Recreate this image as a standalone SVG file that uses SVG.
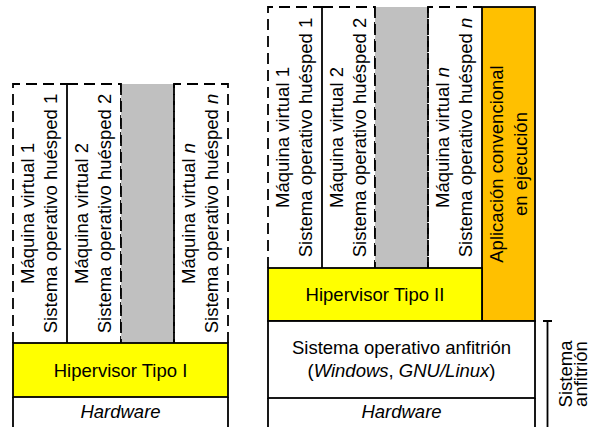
<svg xmlns="http://www.w3.org/2000/svg" width="606" height="427" viewBox="0 0 606 427">
<style>
.t{font-family:"Liberation Sans",Arial,sans-serif;font-size:18.5px;fill:#000;text-anchor:middle}
.i{font-style:italic}
.d{stroke:#000;stroke-width:1.8;stroke-dasharray:11,6;fill:none}
.s{stroke:#000;stroke-width:1.8;fill:none}
.b{stroke:#000;stroke-width:1.8}
</style>
<rect width="606" height="427" fill="#fff"/>
<!-- Left: Type I -->
<g id="L-vm1">
<path class="d" d="M13,343 V84 H67"/>
<path class="s" d="M67,84 V343"/>
<text class="t" transform="translate(34,213.5) rotate(-90)">Máquina virtual 1</text>
<text class="t" transform="translate(57,213.5) rotate(-90)">Sistema operativo huésped 1</text>
</g>
<g id="L-vm2">
<path class="d" d="M67,84 H121 V343"/>
<text class="t" transform="translate(88,213.5) rotate(-90)">Máquina virtual 2</text>
<text class="t" transform="translate(111,213.5) rotate(-90)">Sistema operativo huésped 2</text>
</g>
<g id="L-gap">
<rect x="121" y="84" width="53" height="259" fill="#c0c0c0"/>
<path class="d" d="M121,84 V343 M174,84 V343"/>
</g>
<g id="L-vmn">
<path class="d" d="M174,343 V84 H228 V343"/>
<text class="t" transform="translate(195,213.5) rotate(-90)">Máquina virtual <tspan class="i">n</tspan></text>
<text class="t" transform="translate(218,213.5) rotate(-90)">Sistema operativo huésped <tspan class="i">n</tspan></text>
</g>
<g id="L-hyp">
<rect class="b" x="13" y="343" width="215" height="54" fill="#ffff00"/>
<text class="t" x="120.5" y="377">Hipervisor Tipo I</text>
</g>
<g id="L-hw">
<path class="s" d="M13,397 V427 M228,397 V427"/>
<text class="t i" x="120.5" y="418">Hardware</text>
</g>
<!-- Right: Type II -->
<g id="R-vm1">
<path class="d" d="M268,268 V7 H322"/>
<path class="s" d="M322,7 V268"/>
<text class="t" transform="translate(289,137.5) rotate(-90)">Máquina virtual 1</text>
<text class="t" transform="translate(312,137.5) rotate(-90)">Sistema operativo huésped 1</text>
</g>
<g id="R-vm2">
<path class="d" d="M322,7 H375 V268"/>
<text class="t" transform="translate(342.5,137.5) rotate(-90)">Máquina virtual 2</text>
<text class="t" transform="translate(365.5,137.5) rotate(-90)">Sistema operativo huésped 2</text>
</g>
<g id="R-gap">
<rect x="375" y="7" width="53" height="261" fill="#c0c0c0"/>
<path class="d" d="M375,7 V268 M428,7 V268"/>
</g>
<g id="R-vmn">
<path class="d" d="M428,268 V7 H482"/>
<text class="t" transform="translate(449,137.5) rotate(-90)">Máquina virtual <tspan class="i">n</tspan></text>
<text class="t" transform="translate(472,137.5) rotate(-90)">Sistema operativo huésped <tspan class="i">n</tspan></text>
</g>
<g id="R-app">
<rect class="b" x="482" y="7" width="53" height="314" fill="#ffc000"/>
<text class="t" transform="translate(503,164) rotate(-90)">Aplicación convencional</text>
<text class="t" transform="translate(527,164) rotate(-90)">en ejecución</text>
</g>
<g id="R-hyp">
<rect class="b" x="268" y="268" width="214" height="53" fill="#ffff00"/>
<text class="t" x="375" y="301">Hipervisor Tipo II</text>
</g>
<g id="R-host">
<rect class="b" x="268" y="321" width="267" height="77" fill="#fff"/>
<text class="t" x="401.5" y="354">Sistema operativo anfitrión</text>
<text class="t" x="401.5" y="377">(<tspan class="i">Windows</tspan>, <tspan class="i">GNU/Linux</tspan>)</text>
</g>
<g id="R-hw">
<path class="s" d="M268,398 V427 M535,398 V427"/>
<text class="t i" x="401.5" y="418">Hardware</text>
</g>
<g id="connectors">
<path class="s" d="M543,321 H552 M547.5,321 V427"/>
</g>
<g id="R-hostlabel">
<text class="t" transform="translate(572,374) rotate(-90)">Sistema</text>
<text class="t" transform="translate(587,374) rotate(-90)">anfitrión</text>
</g>
</svg>
